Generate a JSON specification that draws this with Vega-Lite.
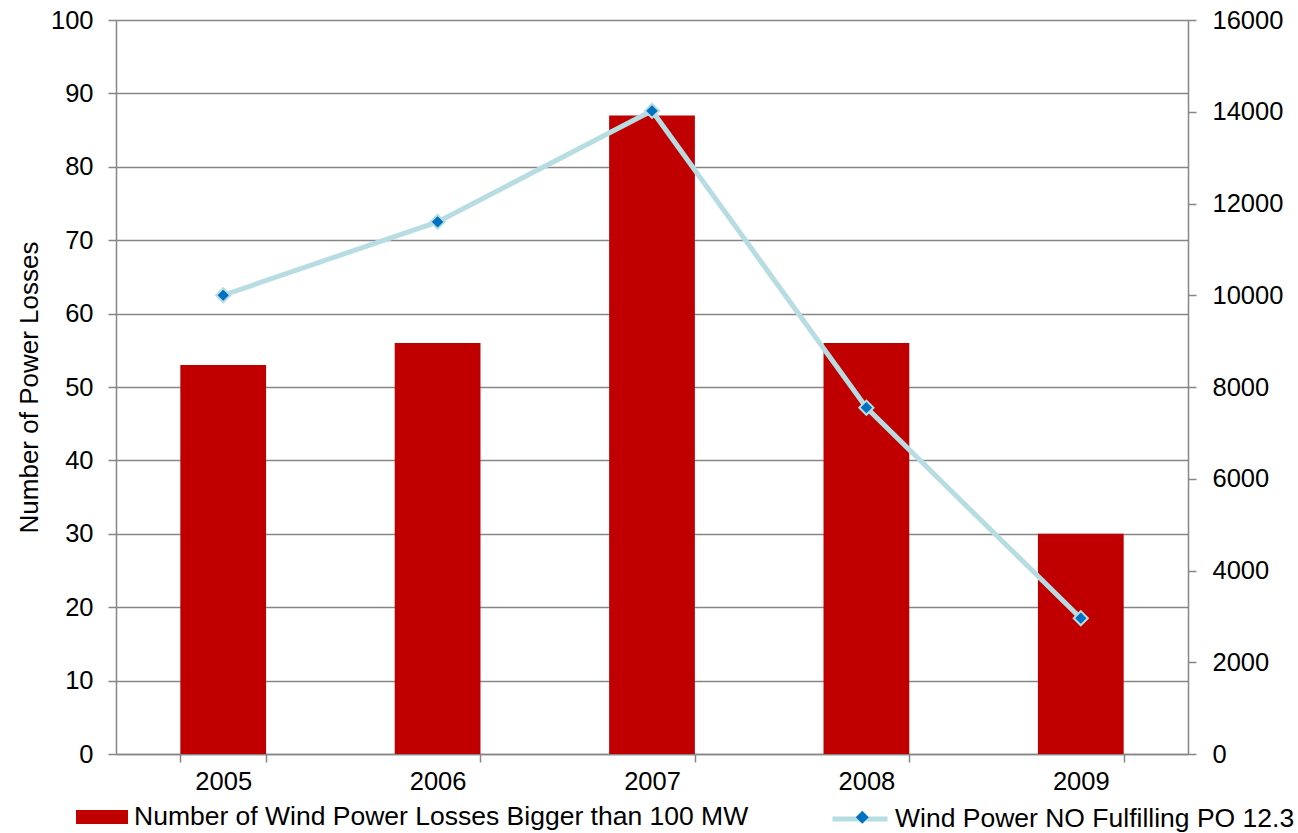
{
  "$schema": "https://vega.github.io/schema/vega-lite/v6.json",
  "width": 1072,
  "height": 734,
  "autosize": {"type": "none"},
  "padding": {"left": 116, "top": 20, "right": 110, "bottom": 79},
  "background": "white",
  "config": {
    "font": "Liberation Sans",
    "view": {"stroke": null},
    "axis": {
      "labelFont": "Liberation Sans",
      "labelFontSize": 25.5,
      "labelColor": "black",
      "titleFont": "Liberation Sans",
      "titleFontSize": 26,
      "titleFontWeight": "normal",
      "titleColor": "black",
      "domainColor": "#868686",
      "tickColor": "#868686",
      "gridColor": "#868686",
      "gridWidth": 1.5,
      "tickSize": 8,
      "domainWidth": 1.5,
      "tickWidth": 1.5
    },
    "legend": {
      "labelFont": "Liberation Sans",
      "labelFontSize": 26.5,
      "labelColor": "black",
      "labelLimit": 0,
      "padding": 0,
      "title": null
    }
  },
  "data": {
    "values": [
      {"year": "2005", "losses": 53, "wind": 10000, "bar_series": "Number of Wind Power Losses Bigger than 100 MW", "line_series": "Wind Power NO Fulfilling PO 12.3"},
      {"year": "2006", "losses": 56, "wind": 11600, "bar_series": "Number of Wind Power Losses Bigger than 100 MW", "line_series": "Wind Power NO Fulfilling PO 12.3"},
      {"year": "2007", "losses": 87, "wind": 14020, "bar_series": "Number of Wind Power Losses Bigger than 100 MW", "line_series": "Wind Power NO Fulfilling PO 12.3"},
      {"year": "2008", "losses": 56, "wind": 7550, "bar_series": "Number of Wind Power Losses Bigger than 100 MW", "line_series": "Wind Power NO Fulfilling PO 12.3"},
      {"year": "2009", "losses": 30, "wind": 2960, "bar_series": "Number of Wind Power Losses Bigger than 100 MW", "line_series": "Wind Power NO Fulfilling PO 12.3"}
    ]
  },
  "encoding": {
    "x": {
      "field": "year",
      "type": "ordinal",
      "scale": {"paddingInner": 0.6, "paddingOuter": 0.3},
      "axis": {"title": null, "labelAngle": 0, "tickBand": "extent", "labelPadding": 7}
    }
  },
  "layer": [
    {
      "mark": {"type": "bar"},
      "encoding": {
        "y": {
          "field": "losses",
          "type": "quantitative",
          "scale": {"domain": [0, 100], "nice": false},
          "axis": {
            "title": "Number of Power Losses",
            "orient": "left",
            "grid": true,
            "values": [0, 10, 20, 30, 40, 50, 60, 70, 80, 90, 100],
            "labelPadding": 15,
            "titlePadding": 8
          }
        },
        "fill": {
          "field": "bar_series",
          "type": "nominal",
          "scale": {"range": ["#C00000"]},
          "legend": {
            "orient": "none",
            "legendX": -40,
            "legendY": 771,
            "symbolType": "M-1,-0.27H1V0.27H-1Z",
            "symbolSize": 2704,
            "symbolStrokeWidth": 0,
            "labelOffset": 6
          }
        }
      }
    },
    {
      "encoding": {
        "y": {
          "field": "wind",
          "type": "quantitative",
          "scale": {"domain": [0, 16000], "nice": false},
          "axis": {
            "title": null,
            "orient": "right",
            "grid": false,
            "format": "d",
            "values": [0, 2000, 4000, 6000, 8000, 10000, 12000, 14000, 16000],
            "labelPadding": 16
          }
        }
      },
      "layer": [
        {
          "mark": {"type": "line", "strokeWidth": 5},
          "encoding": {
            "stroke": {
              "field": "line_series",
              "type": "nominal",
              "scale": {"range": ["#B7DDE3"]},
              "legend": {
                "orient": "none",
                "legendX": 714,
                "legendY": 769,
                "symbolType": "stroke",
                "symbolSize": 3025,
                "symbolStrokeWidth": 5,
                "labelOffset": 5
              }
            }
          }
        },
        {
          "mark": {"type": "point", "filled": true, "size": 200, "fill": "#0070C0", "stroke": "#B7DDE3", "strokeWidth": 2, "opacity": 1},
          "encoding": {
            "shape": {
              "field": "line_series",
              "type": "nominal",
              "scale": {"range": ["diamond"]},
              "legend": {
                "orient": "none",
                "legendX": 733,
                "legendY": 784,
                "symbolSize": 170,
                "symbolFillColor": "#0070C0",
                "symbolStrokeColor": "#B7DDE3",
                "symbolStrokeWidth": 2,
                "labelExpr": "''"
              }
            }
          }
        }
      ]
    }
  ],
  "resolve": {"scale": {"y": "independent"}}
}
